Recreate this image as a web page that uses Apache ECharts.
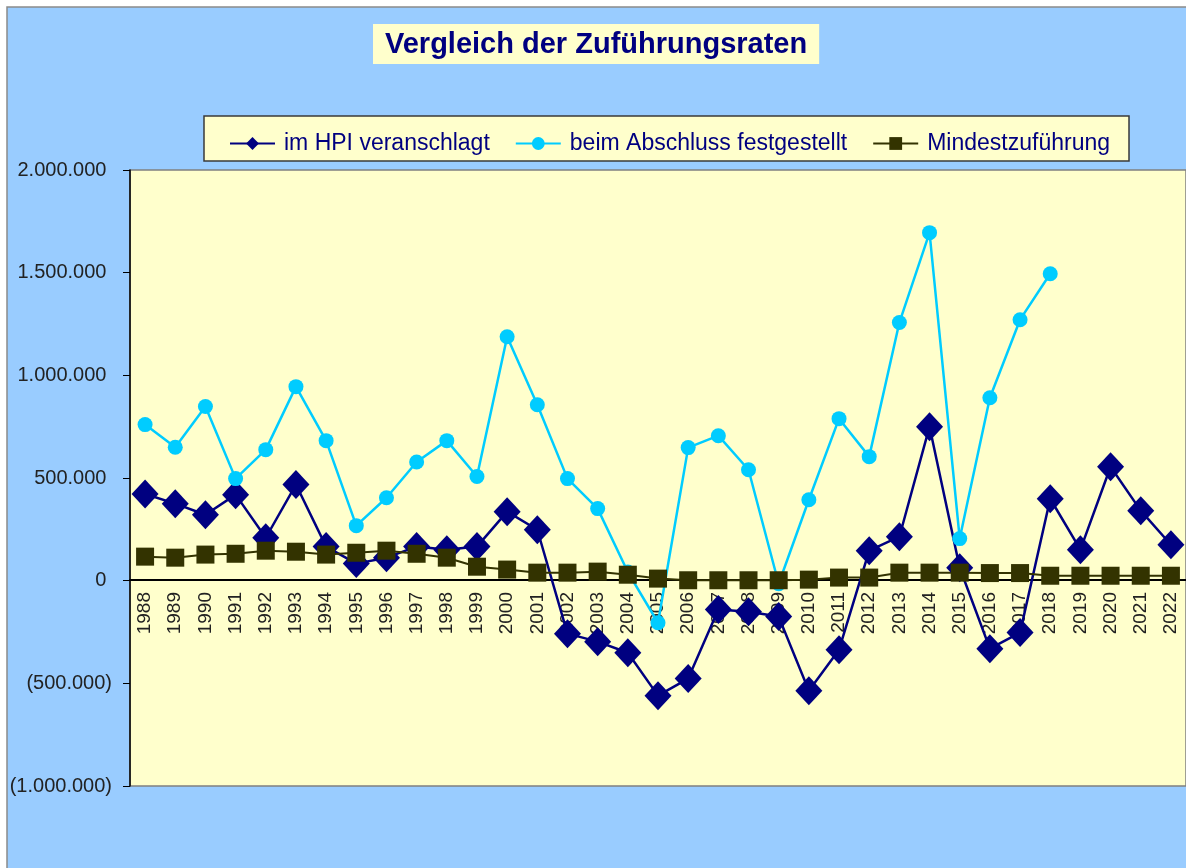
<!DOCTYPE html>
<html>
<head>
<meta charset="utf-8">
<title>Vergleich der Zuführungsraten</title>
<script src="https://cdn.jsdelivr.net/npm/echarts@6/dist/echarts.min.js"></script>
<style>
	html, body { margin: 0; padding: 0; background: #fff; }
	#chart { width: 1186px; height: 868px; }
</style>
</head>
<body>
<div id="chart"></div>
<script>
// Jahre (Kategorien)
var jahre = ['1988','1989','1990','1991','1992','1993','1994','1995','1996','1997','1998','1999',
	'2000','2001','2002','2003','2004','2005','2006','2007','2008','2009','2010','2011',
	'2012','2013','2014','2015','2016','2017','2018','2019','2020','2021','2022'];

// im HPI veranschlagt
var hpi = [422000, 375000, 321000, 419000, 209000, 468000, 166000, 83000, 112000, 166000, 150000, 166000,
	336000, 248000, -258000, -297000, -351000, -560000, -477000, -141000, -151000, -175000, -536000, -336000,
	146000, 214000, 750000, 63000, -331000, -253000, 399000, 151000, 555000, 341000, 175000];

// beim Abschluss festgestellt (ab 2019 noch kein Wert)
var abschluss = [760000, 650000, 848000, 497000, 638000, 945000, 682000, 268000, 404000, 578000, 682000, 507000,
	1188000, 857000, 497000, 351000, 42000, -205000, 648000, 706000, 540000, -15000, 394000, 789000,
	604000, 1257000, 1695000, 205000, 891000, 1271000, 1495000, null, null, null, null];

// Mindestzuführung
var mindest = [117000, 112000, 127000, 131000, 146000, 141000, 127000, 136000, 146000, 131000, 112000, 68000,
	54000, 39000, 39000, 44000, 29000, 10000, 2000, 2000, 2000, 2000, 5000, 15000,
	15000, 39000, 39000, 39000, 37000, 37000, 24000, 24000, 24000, 24000, 24000];

var namen = ['im HPI veranschlagt', 'beim Abschluss festgestellt', 'Mindestzuführung'];

var schrift = '"Liberation Sans", Arial, sans-serif';

// Zahl im deutschen Format, negative Werte in Klammern
function zahl(v) {
	var s = Math.abs(v).toString().replace(/\B(?=(\d{3})+(?!\d))/g, '.');
	return v < 0 ? '(' + s + ')' : s + ' ';
}

var chart = echarts.init(document.getElementById('chart'));
var option = {
	backgroundColor: '#ffffff',
	animation: false,
	textStyle: { fontFamily: schrift },
	graphic: [
		{ // blauer Diagrammbereich
			type: 'rect', z: -10, silent: true,
			shape: { x: 7, y: 7, width: 1200, height: 900 },
			style: { fill: '#99CCFF', stroke: '#8a8a8a', lineWidth: 1.5 }
		},
		{ // Legendenrahmen
			type: 'rect', z: -5, silent: true,
			shape: { x: 204, y: 116, width: 925, height: 45 },
			style: { fill: '#FFFFCC', stroke: '#3a3a3a', lineWidth: 1.5 }
		}
	],
	title: {
		text: 'Vergleich der Zuführungsraten',
		left: 373,
		top: 24,
		padding: [6, 12, 5, 12],
		backgroundColor: '#FFFFCC',
		textStyle: { fontFamily: schrift, fontSize: 29, fontWeight: 'bold', color: '#000080' }
	},
	legend: {
		left: 224,
		top: 127,
		itemWidth: 45,
		itemHeight: 16,
		itemGap: 25,
		textStyle: { fontFamily: schrift, fontSize: 23, color: '#000080', padding: [0, 0, 0, 4] },
		data: namen
	},
	grid: {
		left: 130, top: 170, width: 1060, height: 616,
		show: true,
		backgroundColor: '#FFFFCC',
		borderColor: '#808080',
		borderWidth: 1.5
	},
	xAxis: {
		type: 'category',
		data: jahre,
		boundaryGap: true,
		// Achse liegt auf der Nulllinie (206 px über dem unteren Rand)
		offset: -206,
		axisLine: { onZero: false, lineStyle: { color: '#000', width: 2 } },
		axisTick: { show: false },
		axisLabel: { rotate: 90, fontSize: 19, color: '#222', margin: 12, interval: 0, fontFamily: schrift }
	},
	yAxis: {
		type: 'value',
		min: -1000000,
		max: 2000000,
		interval: 500000,
		splitLine: { show: false },
		axisLine: { show: true, onZero: false, lineStyle: { color: '#000', width: 1.5 } },
		axisTick: { show: true, length: 7, lineStyle: { color: '#000' } },
		axisLabel: { fontSize: 20, color: '#222', margin: 18, formatter: zahl, fontFamily: schrift }
	},
	series: [
		{
			name: namen[0],
			type: 'line',
			data: hpi,
			symbol: 'diamond',
			symbolSize: [27, 29],
			itemStyle: { color: '#000080' },
			lineStyle: { color: '#000080', width: 2.5 }
		},
		{
			name: namen[1],
			type: 'line',
			data: abschluss,
			symbol: 'circle',
			symbolSize: 15,
			itemStyle: { color: '#00CCFF' },
			lineStyle: { color: '#00CCFF', width: 2.5 }
		},
		{
			name: namen[2],
			type: 'line',
			data: mindest,
			symbol: 'rect',
			symbolSize: 18,
			itemStyle: { color: '#333300' },
			lineStyle: { color: '#333300', width: 2 }
		}
	]
};
chart.setOption(option);
</script>
</body>
</html>
